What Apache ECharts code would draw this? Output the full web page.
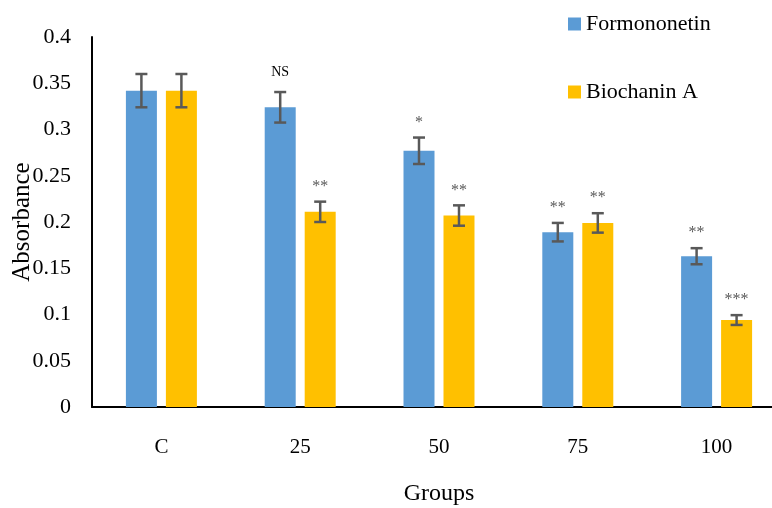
<!DOCTYPE html>
<html><head><meta charset="utf-8">
<script src="https://cdn.jsdelivr.net/npm/echarts@6/dist/echarts.min.js"></script>
<style>html,body{margin:0;padding:0;background:#fff}#c{width:772px;height:508px}</style>
</head><body><div id="c"></div>
<script>
const categories = ['C', '25', '50', '75', '100'];
const seriesNames = ['Formononetin', 'Biochanin A'];
const formononetin = [0.342, 0.324, 0.277, 0.189, 0.163];
const biochanin = [0.342, 0.211, 0.207, 0.199, 0.094];
const formononetinErr = [0.018, 0.0165, 0.0143, 0.010, 0.0087];
const biochaninErr = [0.018, 0.011, 0.011, 0.0105, 0.0053];
const formononetinSig = ['', 'NS', '*', '**', '**'];
const biochaninSig = ['', '**', '**', '**', '***'];
const yTicks = { min: 0, max: 0.4, interval: 0.05 };

const FONT = '"Liberation Serif", "Times New Roman", serif';
const colors = ['#5B9BD5', '#FFC000'];
const BAR_W = 31, OFFSET = 20;

function errSeries(values, errs, sigs, dir) {
  return {
    type: 'custom',
    z: 5,
    data: values.map((v, i) => [i, v, errs[i]]),
    encode: { x: 0, y: 1 },
    renderItem: function (params, api) {
      const i = api.value(0), v = api.value(1), e = api.value(2);
      const sig = sigs[i];
      const c = api.coord([i, v]);
      const x = c[0] + dir * OFFSET;
      const top = api.coord([i, v + e])[1];
      const bot = api.coord([i, v - e])[1];
      const hw = 6;
      const st = { stroke: '#595959', lineWidth: 2.5 };
      const children = [
        { type: 'line', shape: { x1: x, y1: top, x2: x, y2: bot }, style: st },
        { type: 'line', shape: { x1: x - hw, y1: top, x2: x + hw, y2: top }, style: st },
        { type: 'line', shape: { x1: x - hw, y1: bot, x2: x + hw, y2: bot }, style: st }
      ];
      if (sig) {
        const isNS = sig === 'NS';
        children.push({
          type: 'text',
          style: {
            text: sig, x: x, y: top - (isNS ? 13 : 7),
            textAlign: 'center', textVerticalAlign: 'bottom',
            font: (isNS ? '14px ' : '16px ') + FONT,
            fill: isNS ? '#000' : '#595959'
          }
        });
      }
      return { type: 'group', children: children };
    }
  };
}

const chart = echarts.init(document.getElementById('c'), null, { renderer: 'canvas' });
chart.setOption({
  animation: false,
  textStyle: { fontFamily: FONT },
  grid: { left: 92, top: 37, right: -14, bottom: 101, containLabel: false, outerBoundsMode: 'none' },
  legend: {
    orient: 'vertical', left: 563, top: 8, icon: 'rect',
    itemWidth: 13, itemHeight: 13, itemGap: 46,
    data: seriesNames,
    textStyle: { fontFamily: FONT, fontSize: 22, color: '#000' }
  },
  xAxis: {
    type: 'category', data: categories,
    name: 'Groups', nameLocation: 'middle', nameGap: 75, nameMoveOverlap: false,
    nameTextStyle: { fontFamily: FONT, fontSize: 24, color: '#000' },
    axisLine: { lineStyle: { color: '#000', width: 2 } },
    axisTick: { show: false },
    axisLabel: { margin: 30, fontFamily: FONT, fontSize: 21, color: '#000' }
  },
  yAxis: {
    type: 'value', min: yTicks.min, max: yTicks.max, interval: yTicks.interval,
    name: 'Absorbance', nameLocation: 'middle', nameGap: 57, nameRotate: 90, nameMoveOverlap: false,
    nameTextStyle: { fontFamily: FONT, fontSize: 25, color: '#000' },
    axisLine: { show: true, lineStyle: { color: '#000', width: 2 } },
    axisTick: { show: false },
    splitLine: { show: false },
    axisLabel: { margin: 21, fontFamily: FONT, fontSize: 22, color: '#000' }
  },
  series: [
    { name: seriesNames[0], type: 'bar', data: formononetin, barWidth: BAR_W, barGap: '29%',
      itemStyle: { color: colors[0] } },
    { name: seriesNames[1], type: 'bar', data: biochanin, barWidth: BAR_W, barGap: '29%',
      itemStyle: { color: colors[1] } },
    errSeries(formononetin, formononetinErr, formononetinSig, -1),
    errSeries(biochanin, biochaninErr, biochaninSig, 1)
  ]
});
</script></body></html>
